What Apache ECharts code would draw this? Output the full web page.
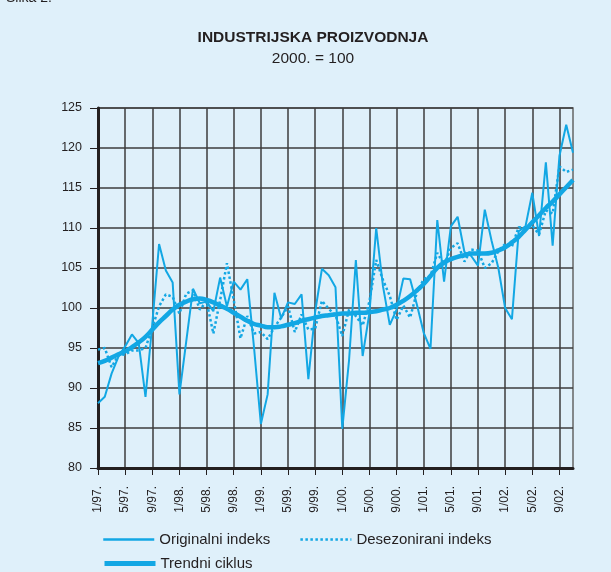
<!DOCTYPE html>
<html>
<head>
<meta charset="utf-8">
<script src="https://cdn.jsdelivr.net/npm/echarts@6/dist/echarts.min.js"></script>
<style>
  html, body { margin: 0; padding: 0; background: #dff0fa; }
  #chart { width: 611px; height: 572px; }
</style>
</head>
<body>
<div id="chart"></div>
<script>
// months 1/97 .. 11/02
const years = ["97", "98", "99", "00", "01", "02"];
const lastMonth = 11;

const original = [
    88.1, 88.9, 91.8, 93.9, 95.2, 96.7, 95.6, 88.9, 98.0, 108.0, 104.7, 103.2,
    89.2, 95.8, 102.4, 100.6, 100.8, 99.6, 103.8, 100.2, 103.3, 102.3, 103.6, 95.0,
    85.5, 89.2, 101.9, 98.7, 100.7, 100.5, 101.7, 91.1, 99.5, 104.9, 104.1, 102.6,
    84.9, 93.5, 106.0, 94.0, 99.4, 110.0, 102.7, 97.9, 99.8, 103.7, 103.6, 100.4,
    96.9, 94.9, 111.0, 103.3, 110.2, 111.4, 107.0, 106.5, 105.3, 112.3, 108.4, 105.0,
    100.0, 98.6, 109.6, 110.2, 114.4, 109.0, 118.2, 107.8, 119.0, 122.9, 119.4
];

const deseasonalized = [
    94.8, 95.0, 92.6, 94.1, 94.2, 94.7, 94.7, 95.0, 97.5, 100.2, 101.7, 101.4,
    99.3, 101.8, 102.2, 99.8, 100.8, 96.8, 101.0, 105.6, 101.0, 96.2, 99.0, 96.8,
    97.0, 96.1, 97.6, 98.8, 100.2, 97.0, 99.2, 97.3, 97.4, 100.9, 99.9, 99.1,
    96.5, 99.8, 99.0, 97.8, 100.8, 106.0, 103.5, 101.5, 98.5, 100.3, 98.8, 102.0,
    103.6, 104.0, 106.9, 105.4, 107.5, 108.1, 105.8, 107.3, 107.2, 105.0, 105.6, 107.1,
    108.0, 107.7, 110.1, 110.0, 110.3, 109.2, 112.2, 111.8, 117.7, 117.0, 117.3
];

const trend = [
    93.1, 93.4, 93.8, 94.2, 94.6, 95.1, 95.7, 96.4, 97.3, 98.2, 99.0, 99.8,
    100.4, 100.8, 101.1, 101.2, 101.0, 100.7, 100.3, 99.9, 99.4, 98.9, 98.4, 98.0,
    97.8, 97.6, 97.6, 97.7, 97.9, 98.1, 98.4, 98.6, 98.8, 99.0, 99.1, 99.2,
    99.3, 99.3, 99.4, 99.4, 99.5, 99.6, 99.8, 100.0, 100.4, 100.9, 101.5, 102.2,
    103.0, 104.0, 105.0, 105.7, 106.1, 106.4, 106.6, 106.8, 106.8, 106.8, 106.9, 107.2,
    107.6, 108.2, 108.9, 109.8, 110.7, 111.6, 112.5, 113.3, 114.2, 115.1, 116.0
];

const categories = [];
years.forEach((y, k) => {
    const n = k === years.length - 1 ? lastMonth : 12;
    for (let m = 1; m <= n; m++) categories.push(m + "/" + y + ".");
});

const blue = "#12a7e4";
const ink = "#231f20";
const font = "Liberation Sans";

const chart = echarts.init(document.getElementById("chart"));

const legendBase = {
    left: 97,
    itemWidth: 51,
    itemHeight: 14,
    itemStyle: { opacity: 0 },
    textStyle: { fontSize: 15, color: ink }
};

chart.setOption({
    backgroundColor: "#dff0fa",
    animation: false,
    textStyle: { fontFamily: font },
    title: {
        text: "INDUSTRIJSKA PROIZVODNJA",
        subtext: "2000. = 100",
        left: 308,
        textAlign: "center",
        top: 25,
        itemGap: 5,
        textStyle: { fontSize: 15.5, fontWeight: "bold", color: ink, fontFamily: font },
        subtextStyle: { fontSize: 15.5, color: ink, fontFamily: font }
    },
    graphic: [{
        type: "text",
        left: 6,
        top: -9,
        style: { text: "Slika 2.", font: "14px " + font, fill: ink }
    }],
    grid: {
        left: 98,
        right: 38,
        top: 108,
        bottom: 104,
        show: true,
        borderColor: "#666",
        borderWidth: 1.5
    },
    legend: [
        Object.assign({}, legendBase, {
            data: ["Originalni indeks", "Desezonirani indeks"],
            top: 527,
            itemGap: 29,
            lineStyle: { width: 2.5 }
        }),
        Object.assign({}, legendBase, {
            data: ["Trendni ciklus"],
            top: 551,
            lineStyle: { width: 5 }
        })
    ],
    xAxis: {
        type: "category",
        data: categories,
        boundaryGap: false,
        axisLine: { lineStyle: { color: ink, width: 3 } },
        axisTick: { interval: 3, length: 7, lineStyle: { color: ink, width: 1 } },
        axisLabel: {
            interval: 3,
            rotate: 90,
            fontSize: 12,
            color: ink,
            margin: 18
        },
        splitLine: { show: true, interval: 3, lineStyle: { color: "#3d3d3d", width: 1.5 } }
    },
    yAxis: {
        type: "value",
        min: 80,
        max: 125,
        interval: 5,
        axisLine: { show: true, lineStyle: { color: ink, width: 3 } },
        axisTick: { show: true, length: 8, lineStyle: { color: ink, width: 1 } },
        axisLabel: { fontSize: 12.5, color: ink, margin: 16 },
        splitLine: { lineStyle: { color: "#3d3d3d", width: 1.5 } }
    },
    series: [
        {
            name: "Trendni ciklus",
            type: "line",
            data: trend,
            symbol: "none",
            smooth: true,
            lineStyle: { color: blue, width: 4.5 },
            itemStyle: { color: blue }
        },
        {
            name: "Desezonirani indeks",
            type: "line",
            data: deseasonalized,
            symbol: "none",
            lineStyle: { color: blue, width: 2.5, type: [2.5, 2.5] },
            itemStyle: { color: blue }
        },
        {
            name: "Originalni indeks",
            type: "line",
            data: original,
            symbol: "none",
            lineStyle: { color: blue, width: 2 },
            itemStyle: { color: blue }
        }
    ]
});
</script>
</body>
</html>
